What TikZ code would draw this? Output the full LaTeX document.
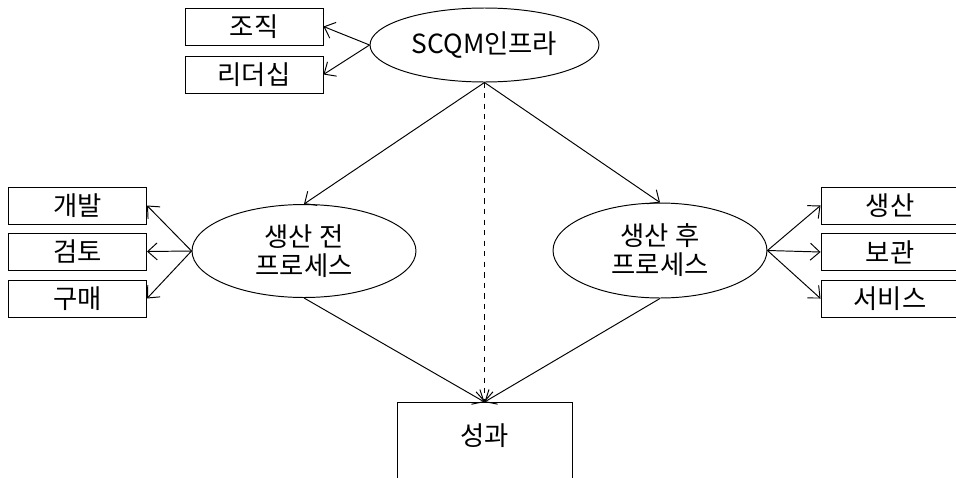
\documentclass[tikz,border=0pt]{standalone}
\usepackage{fontspec}
\setmainfont{Noto Sans CJK KR}
\usetikzlibrary{arrows,arrows.meta,shapes.geometric}

\begin{document}
\begin{tikzpicture}[x=0.02cm,y=-0.02cm,line width=0.55pt,
  >={Straight Barb[length=1.9mm,width=3.4mm]},
  font=\fontsize{15}{16.5}\selectfont,
  box/.style={draw,rectangle,minimum width=2.76cm,minimum height=0.74cm,inner sep=0pt},
  oval/.style={draw,ellipse,inner sep=0pt,align=center}]
\useasboundingbox (0,0) rectangle (956,477);
%\draw (0,0) rectangle (956,477);
\node[oval,minimum width=4.58cm,minimum height=1.48cm] (infra) at (484.5,45) {SCQM인프라};
\node[box] (org) at (254,26.5) {조직};
\node[box] (lead) at (254,74.5) {리더십};
\node[oval,minimum width=4.48cm,minimum height=1.86cm] (pre) at (304,251) {생산 전\\프로세스};
\node[oval,minimum width=4.28cm,minimum height=1.9cm] (post) at (660,250.5) {생산 후\\프로세스};
\node[box] (dev) at (77.5,205.5) {개발};
\node[box] (rev) at (77.5,251.5) {검토};
\node[box] (buy) at (77.5,298.5) {구매};
\node[box] (prod) at (890,205.5) {생산};
\node[box] (store) at (890,252) {보관};
\node[box] (serv) at (890,298.5) {서비스};
\node[box,minimum width=3.5cm,anchor=north,text height=0.86cm,text depth=0.8cm] (perf) at (484.5,402) {성과};
\draw (infra.west) edge[->] (org.east);
\draw (infra.west) edge[->] (lead.east);
\draw (infra.south) edge[->] (pre.north);
\draw (infra.south) edge[->] (post.north);
\draw (infra.south) edge[->,dashed] (perf.north);
\draw (pre.west) edge[->] (dev.east);
\draw (pre.west) edge[->] (rev.east);
\draw (pre.west) edge[->] (buy.east);
\draw (post.east) edge[->] (prod.west);
\draw (post.east) edge[->] (store.west);
\draw (post.east) edge[->] (serv.west);
\path (pre.south) edge[->] (perf.north);
\path (post.south) edge[->] (perf.north);
\end{tikzpicture}
\end{document}
